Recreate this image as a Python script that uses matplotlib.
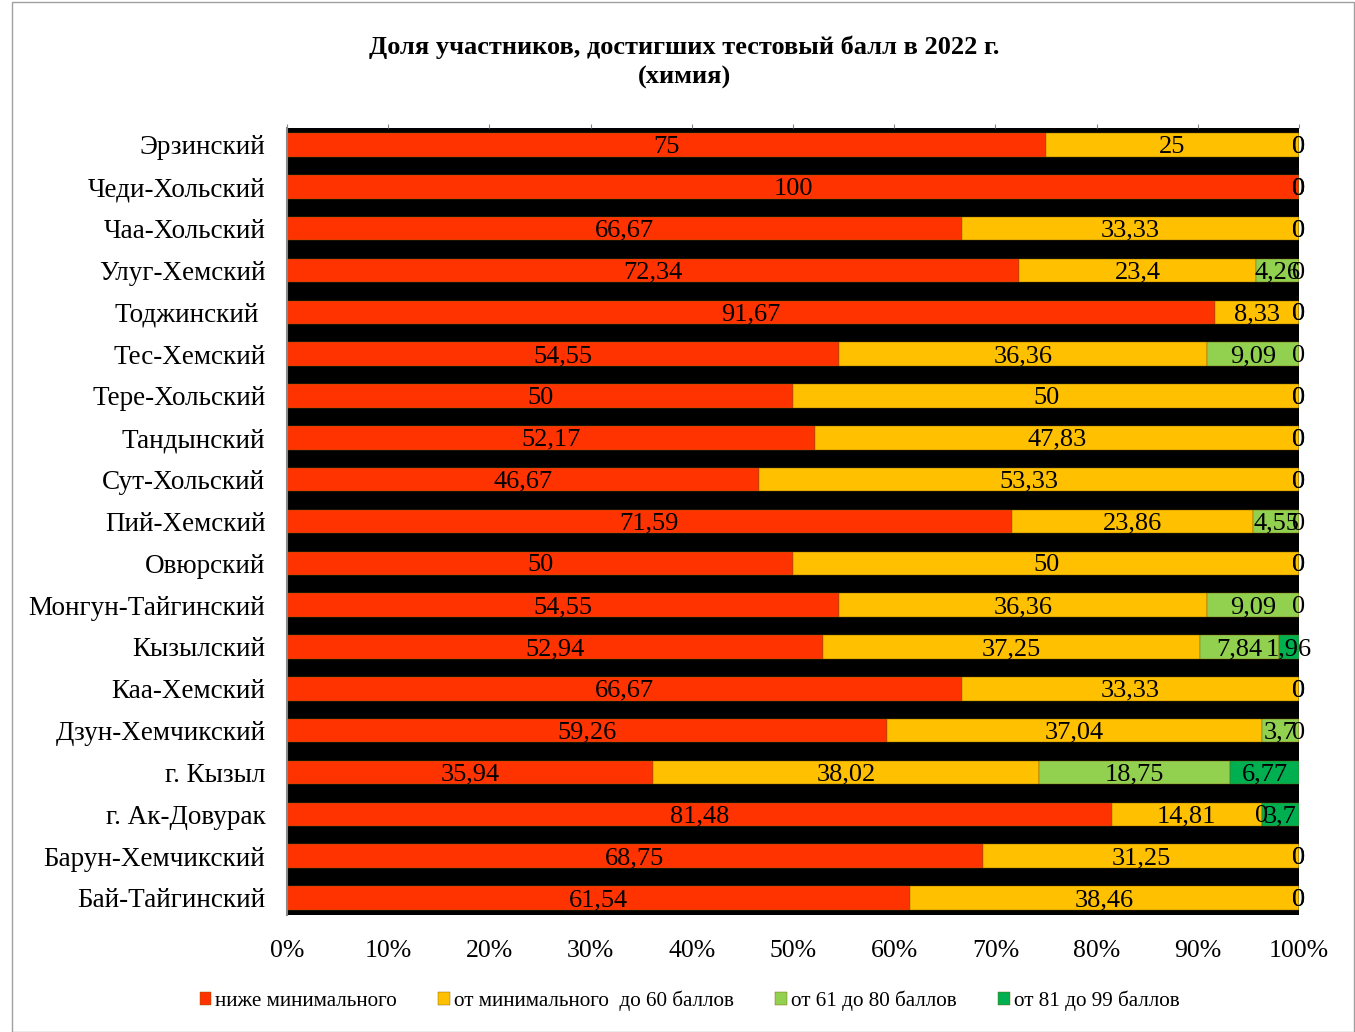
import matplotlib.pyplot as plt
import numpy as np
from matplotlib.patches import Rectangle

plt.rcParams['font.family'] = ['Liberation Serif', 'DejaVu Serif']

# районы (сверху вниз)
districts = ['Эрзинский', 'Чеди-Хольский', 'Чаа-Хольский', 'Улуг-Хемский', 'Тоджинский ',
             'Тес-Хемский', 'Тере-Хольский', 'Тандынский', 'Сут-Хольский', 'Пий-Хемский',
             'Овюрский', 'Монгун-Тайгинский', 'Кызылский', 'Каа-Хемский', 'Дзун-Хемчикский',
             'г. Кызыл', 'г. Ак-Довурак', 'Барун-Хемчикский', 'Бай-Тайгинский']

below_min = [75, 100, 66.67, 72.34, 91.67, 54.55, 50, 52.17, 46.67, 71.59,
             50, 54.55, 52.94, 66.67, 59.26, 35.94, 81.48, 68.75, 61.54]
min_to_60 = [25, 0, 33.33, 23.4, 8.33, 36.36, 50, 47.83, 53.33, 23.86,
             50, 36.36, 37.25, 33.33, 37.04, 38.02, 14.81, 31.25, 38.46]
from_61_80 = [0, 0, 0, 4.26, 0, 9.09, 0, 0, 0, 4.55,
              0, 9.09, 7.84, 0, 3.7, 18.75, 0, 0, 0]
from_81_99 = [0, 0, 0, 0, 0, 0, 0, 0, 0, 0,
              0, 0, 1.96, 0, 0, 6.77, 3.7, 0, 0]

series = [below_min, min_to_60, from_61_80, from_81_99]
names = ['ниже минимального', 'от минимального  до 60 баллов',
         'от 61 до 80 баллов', 'от 81 до 99 баллов']
colors = ['#FF3300', '#FFC000', '#92D050', '#00B050']

fig = plt.figure(figsize=(13.55, 10.32), dpi=100)
ax = fig.add_axes([0.2118, 0.1134, 0.7469, 0.7626])
ax.set_facecolor('black')

vals = np.array(series, dtype=float)
totals = vals.sum(axis=0)
y = np.arange(len(districts))
left = np.zeros(len(districts))
for v, name, c in zip(vals, names, colors):
    w = v / totals * 100
    ax.barh(y, w, left=left, height=0.56, color=c, label=name,
            edgecolor='#7a5a00', linewidth=0.3)
    for i in range(len(y)):
        txt = ('%g' % v[i]).replace('.', ',')
        ax.text(left[i] + w[i] / 2, y[i] + 0.05, txt, ha='center', va='center',
                fontsize=19, color='black')
    left = left + w

ax.set_xlim(0, 100)
ax.set_ylim(18.406, -0.406)
ax.set_yticks(y)
ax.set_yticklabels(districts, fontsize=19.5)
ax.set_xticks(np.arange(0, 101, 10))
ax.set_xticklabels(['%d%%' % t for t in range(0, 101, 10)], fontsize=18.5)
ax.tick_params(axis='x', bottom=False, top=True, labelbottom=True, labeltop=False,
               direction='out', length=3, color='#888888', pad=15)
ax.tick_params(axis='y', left=False, pad=12)
for s in ['top', 'right', 'bottom']:
    ax.spines[s].set_visible(False)
ax.spines['left'].set_color('#888888')
ax.spines['left'].set_linewidth(1.5)

fig.text(0.505, 0.954, 'Доля участников, достигших тестовый балл в 2022 г.',
         ha='center', va='center', fontsize=19, fontweight='bold')
fig.text(0.505, 0.925, '(химия)', ha='center', va='center', fontsize=19, fontweight='bold')

fig.legend(loc='center', bbox_to_anchor=(0.509, 0.03), ncol=4, frameon=False,
           fontsize=15.2, handlelength=0.55, handleheight=0.55, handletextpad=0.2,
           columnspacing=1.95)

fig.add_artist(Rectangle((0.009, 0.0), 0.99, 0.998, transform=fig.transFigure,
                         fill=False, edgecolor='#a0a0a0', linewidth=1))

fig.savefig('out.png', dpi=100)
